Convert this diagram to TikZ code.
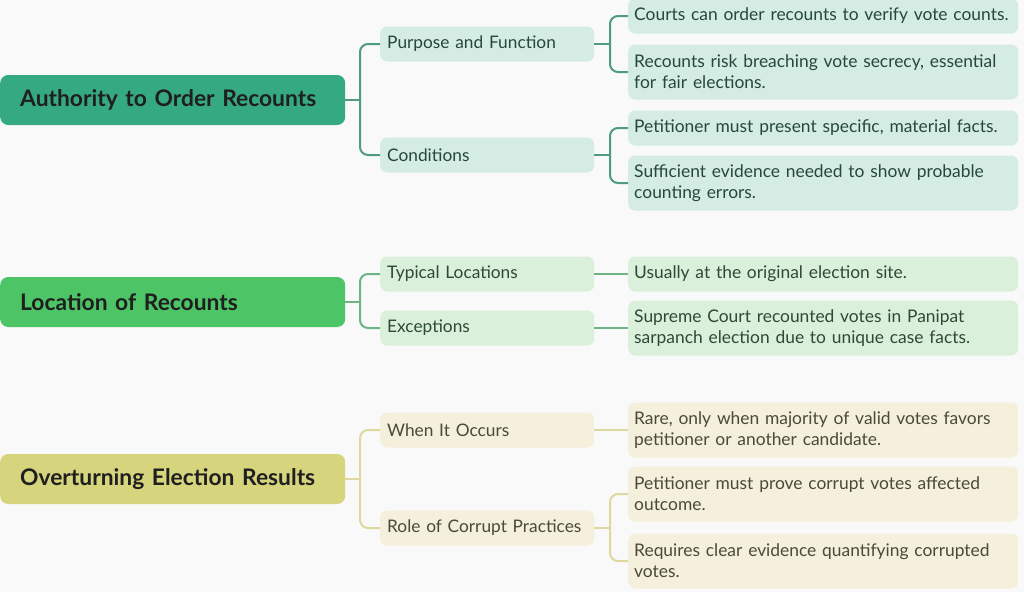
\documentclass[tikz,border=0pt]{standalone}
\usepackage{fontspec}
\setmainfont{Lato}
\definecolor{bgcol}{HTML}{FAF9F9}
\definecolor{authfill}{HTML}{35A982}
\definecolor{locfill}{HTML}{4DC466}
\definecolor{overfill}{HTML}{D6D47C}
\definecolor{authlight}{HTML}{D4ECE3}
\definecolor{loclight}{HTML}{DAF0DB}
\definecolor{overlight}{HTML}{F4F0DC}
\definecolor{authline}{HTML}{4E9A83}
\definecolor{locline}{HTML}{6DB384}
\definecolor{overline}{HTML}{DDD99E}
\definecolor{authtext}{HTML}{26473C}
\definecolor{loctext}{HTML}{2C4A35}
\definecolor{overtext}{HTML}{4A4A38}

\begin{document}
\begin{tikzpicture}[x=1pt,y=-1pt,
	root/.style={anchor=west, rounded corners=8pt, minimum height=50pt, text width=305pt, inner xsep=20pt, align=left, font=\fontsize{22.8}{26}\selectfont\bfseries, text=black!88},
	topic/.style={anchor=west, rounded corners=7pt, minimum height=35pt, text width=200pt, inner xsep=7pt, align=left, font=\fontsize{17.3}{20}\selectfont},
	leaf/.style={anchor=west, rounded corners=7pt, minimum height=35pt, text width=378pt, inner xsep=6pt, align=left, font=\fontsize{17.4}{21}\selectfont},
	tall/.style={minimum height=55pt},
	link/.style={line width=2pt, rounded corners=8pt}]

	\useasboundingbox (0,0) rectangle (1024,592);
	\fill[bgcol] (0,0) rectangle (1024,592);

	% first branch
	\node[root, fill=authfill] at (0,100) (auth) {Authority to Order Recounts};
	\node[topic, fill=authlight, text=authtext] at (380,44) (purp) {Purpose and Function};
	\node[topic, fill=authlight, text=authtext] at (380,155) (cond) {Conditions};
	\node[leaf, fill=authlight, text=authtext] at (628,16) (courts) {Courts can order recounts to verify vote counts.};
	\node[leaf, tall, fill=authlight, text=authtext] at (628,72) (risk) {Recounts risk breaching vote secrecy, essential\\for fair elections.};
	\node[leaf, fill=authlight, text=authtext] at (628,128) (facts) {Petitioner must present specific, material facts.};
	\node[leaf, tall, fill=authlight, text=authtext] at (628,183) (evid) {Sufficient evidence needed to show probable\\counting errors.};

	\coordinate (authJ) at (360,100);
	\coordinate (purpJ) at (610,44);
	\coordinate (condJ) at (610,155);
	\draw[link, authline] (auth.east) -- (authJ);
	\draw[link, authline] (authJ) |- (purp.west);
	\draw[link, authline] (authJ) |- (cond.west);
	\draw[link, authline] (purp.east) -- (purpJ);
	\draw[link, authline] (purpJ) |- (courts.west);
	\draw[link, authline] (purpJ) |- (risk.west);
	\draw[link, authline] (cond.east) -- (condJ);
	\draw[link, authline] (condJ) |- (facts.west);
	\draw[link, authline] (condJ) |- (evid.west);

	% second branch
	\node[root, fill=locfill] at (0,302) (loc) {Location of Recounts};
	\node[topic, fill=loclight, text=loctext] at (380,274) (typ) {Typical Locations};
	\node[topic, fill=loclight, text=loctext] at (380,328) (exc) {Exceptions};
	\node[leaf, fill=loclight, text=loctext] at (628,274) (site) {Usually at the original election site.};
	\node[leaf, tall, fill=loclight, text=loctext] at (628,328) (pani) {Supreme Court recounted votes in Panipat\\sarpanch election due to unique case facts.};

	\coordinate (locJ) at (360,302);
	\draw[link, locline] (loc.east) -- (locJ);
	\draw[link, locline] (locJ) |- (typ.west);
	\draw[link, locline] (locJ) |- (exc.west);
	\draw[link, locline] (typ) -- (site);
	\draw[link, locline] (exc) -- (pani);

	% third branch
	\node[root, fill=overfill] at (0,479) (over) {Overturning Election Results};
	\node[topic, fill=overlight, text=overtext] at (380,430) (when) {When It Occurs};
	\node[topic, fill=overlight, text=overtext] at (380,528) (role) {Role of Corrupt Practices};
	\node[leaf, tall, fill=overlight, text=overtext] at (628,430) (rare) {Rare, only when majority of valid votes favors\\petitioner or another candidate.};
	\node[leaf, tall, fill=overlight, text=overtext] at (628,494) (prove) {Petitioner must prove corrupt votes affected\\outcome.};
	\node[leaf, tall, fill=overlight, text=overtext] at (628,561) (quant) {Requires clear evidence quantifying corrupted\\votes.};

	\coordinate (overJ) at (360,479);
	\coordinate (roleJ) at (610,528);
	\draw[link, overline] (over.east) -- (overJ);
	\draw[link, overline] (overJ) |- (when.west);
	\draw[link, overline] (overJ) |- (role.west);
	\draw[link, overline] (when) -- (rare);
	\draw[link, overline] (role.east) -- (roleJ);
	\draw[link, overline] (roleJ) |- (prove.west);
	\draw[link, overline] (roleJ) |- (quant.west);

\end{tikzpicture}
\end{document}
